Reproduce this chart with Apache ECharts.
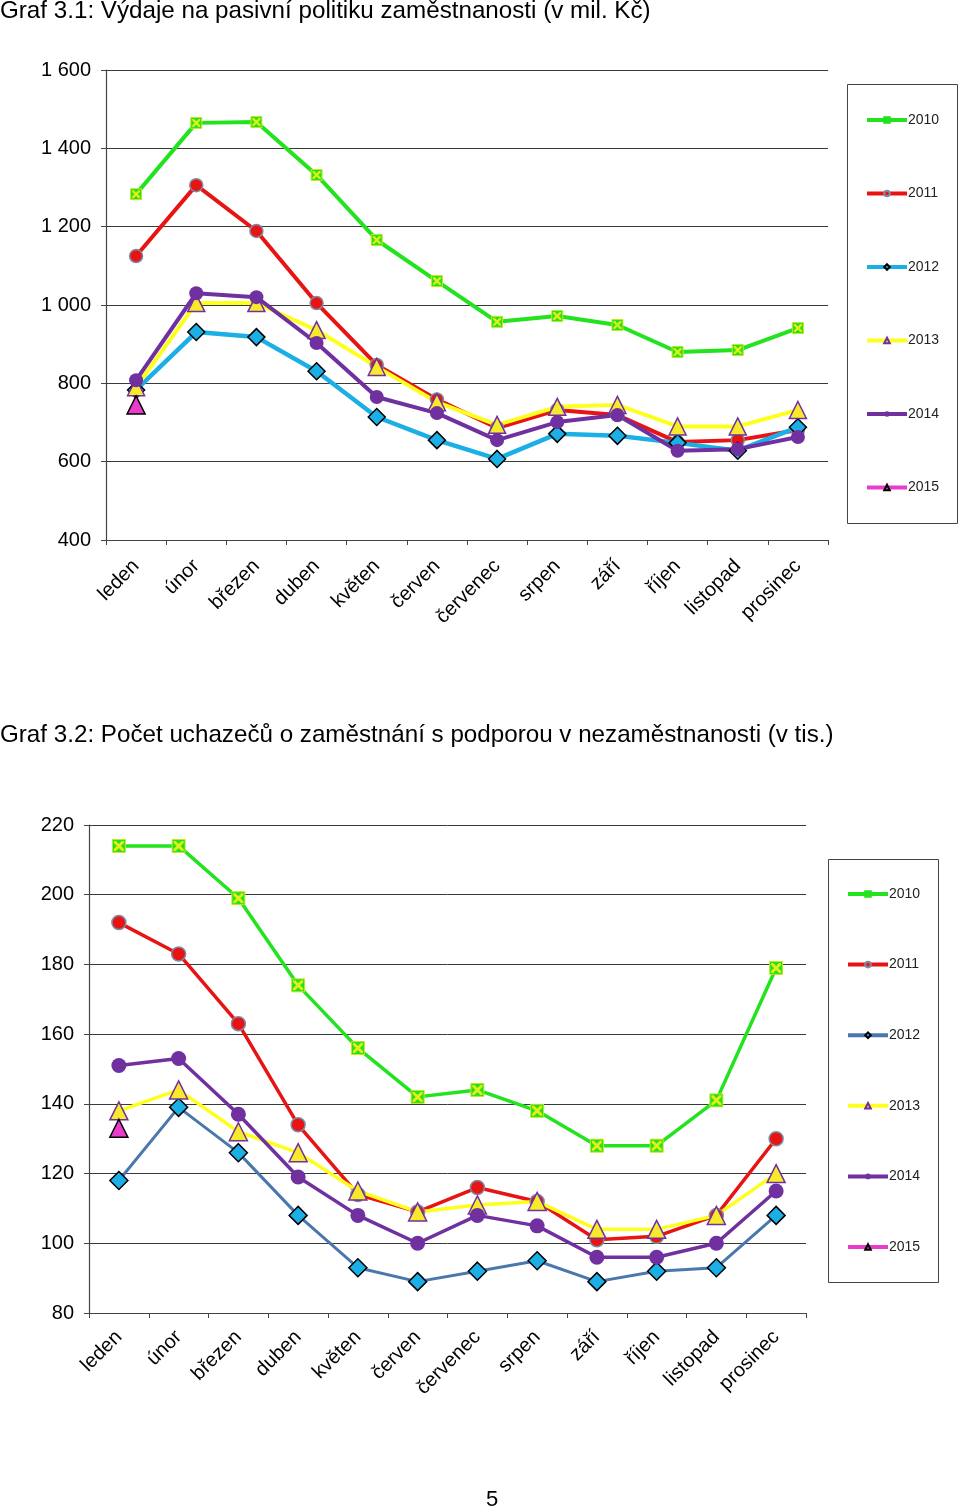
<!DOCTYPE html>
<html>
<head>
<meta charset="utf-8">
<script src="https://cdn.jsdelivr.net/npm/echarts@6/dist/echarts.min.js"></script>
<style>
html,body{margin:0;padding:0;background:#fff;}
#c1{position:absolute;left:0;top:0;width:960px;height:720px;}
#c2{position:absolute;left:0;top:720px;width:960px;height:790px;}
</style>
</head>
<body>
<div id="c1"></div>
<div id="c2"></div>
<script>
// ---- data ----
const months = ['leden','únor','březen','duben','květen','červen','červenec','srpen','září','říjen','listopad','prosinec'];
const years = ['2010','2011','2012','2013','2014','2015'];

const title1 = 'Graf 3.1: Výdaje na pasivní politiku zaměstnanosti (v mil. Kč)';
const vydaje2010 = [1283,1465,1467,1332,1166,1061,957,972,949,880,885,941];
const vydaje2011 = [1125,1306,1189,1005,847,759,686,732,719,650,655,681];
const vydaje2012 = [783,931,918,831,714,655,607,671,666,648,628,688];
const vydaje2013 = [790,1005,1005,936,842,752,694,740,745,690,690,732];
const vydaje2014 = [808,1030,1020,903,765,724,655,701,719,628,632,663];
const vydaje2015 = [745,null,null,null,null,null,null,null,null,null,null,null];

const title2 = 'Graf 3.2: Počet uchazečů o zaměstnání s podporou v nezaměstnanosti (v tis.)';
const uchazeci2010 = [214,214,199,174,156,142,144,138,128,128,141,179];
const uchazeci2011 = [192,183,163,134,114,109,116,112,101,102,108,130];
const uchazeci2012 = [118,139,126,108,93,89,92,95,89,92,93,108];
const uchazeci2013 = [138,144,132,126,115,109,111,112,104,104,108,120];
const uchazeci2014 = [151,153,137,119,108,100,108,105,96,96,100,115];
const uchazeci2015 = [133,null,null,null,null,null,null,null,null,null,null,null];

const pageNumber = '5';

// ---- styles ----
const FONT = 'Liberation Sans, Arial, sans-serif';
const GREEN = '#22E31E', RED = '#E81414', CYAN = '#1CAFE5', STEEL = '#4A78AC',
      YELLOW = '#FFFF1E', YELLOWM = '#F7EA2A', PURPLE = '#7030A0', MAGENTA = '#E83CCB';
const XPATH = 'path://M0,0 L2,0 L10,8 L10,10 L8,10 L0,2 Z M8,0 L10,0 L10,2 L2,10 L0,10 L0,8 Z';

function fmtThousands(v){
  const s = String(v);
  return s.length > 3 ? s.slice(0, s.length-3) + ' ' + s.slice(-3) : s;
}

function build(cfg){
  const d = cfg.data;
  const s = cfg.sizes;
  const lw = cfg.lineWidth;
  const series = [
    {name:'2010', type:'line', data:d[0], symbol:'rect', symbolSize:s.sq,
     lineStyle:{color:GREEN,width:lw}, itemStyle:{color:GREEN,borderColor:'#C8E81E',borderWidth:1}},
    {name:'2010x', type:'line', data:d[0], symbol:XPATH, symbolSize:s.sq-3,
     lineStyle:{opacity:0,width:0}, itemStyle:{color:'#E6EE1A'}, silent:true},
    {name:'2011', type:'line', data:d[1], symbol:'circle', symbolSize:s.rc,
     lineStyle:{color:RED,width:lw}, itemStyle:{color:RED,borderColor:'#7C8CA4',borderWidth:1.5}},
    {name:'2012', type:'line', data:d[2], symbol:'diamond', symbolSize:s.dm,
     lineStyle:{color:cfg.blueLine,width:cfg.blueWidth}, itemStyle:{color:CYAN,borderColor:'#000',borderWidth:1.5}},
    {name:'2013', type:'line', data:d[3], symbol:'triangle', symbolSize:s.tr,
     lineStyle:{color:YELLOW,width:lw}, itemStyle:{color:YELLOWM,borderColor:PURPLE,borderWidth:1.5}},
    {name:'2014', type:'line', data:d[4], symbol:'circle', symbolSize:s.pc,
     lineStyle:{color:PURPLE,width:lw}, itemStyle:{color:PURPLE,borderWidth:0}},
    {name:'2015', type:'line', data:d[5], symbol:'triangle', symbolSize:s.mg,
     lineStyle:{color:MAGENTA,width:lw}, itemStyle:{color:MAGENTA,borderColor:'#000',borderWidth:1.5}}
  ];
  series.forEach(x => { x.animation = false; x.connectNulls = false; });
  const legendData = years.map((y,i) => {
    const o = {name:y, lineStyle:{width:4}};
    if (i===0) o.itemStyle = {color:GREEN,borderColor:GREEN};
    if (i===2) o.lineStyle = {color:cfg.blueLine, width:4};
    return o;
  });
  return {
    animation:false,
    backgroundColor:'#fff',
    textStyle:{fontFamily:FONT},
    title:[
      {text:cfg.title, left:-4, top:cfg.titleTop, padding:[0,4],
       textStyle:{fontFamily:FONT,fontSize:24.2,fontWeight:'normal',color:'#000'}}
    ].concat(cfg.extraTitles||[]),
    graphic:[{type:'rect', shape:cfg.legendBox, style:{fill:'#fff',stroke:'#444',lineWidth:1}, z:0}],
    legend:{
      data:legendData, orient:'vertical', left:cfg.legendLeft, top:cfg.legendTop,
      itemWidth:40, itemHeight:7, itemGap:cfg.legendGap, padding:0,
      selectedMode:false, z:5,
      textStyle:{fontFamily:FONT,fontSize:14,color:'#222',padding:[0,0,0,-4]}
    },
    grid:{left:cfg.grid.left, top:cfg.grid.top, width:cfg.grid.width, height:cfg.grid.height, containLabel:false},
    xAxis:{
      type:'category', data:months, boundaryGap:true,
      axisLine:{lineStyle:{color:'#444',width:1.2}},
      axisTick:{show:true, alignWithLabel:false, length:5, lineStyle:{color:'#444'}},
      axisLabel:{rotate:45, fontFamily:FONT, fontSize:20, color:'#000', margin:cfg.xMargin, interval:0},
      splitLine:{show:false}
    },
    yAxis:{
      type:'value', min:cfg.yMin, max:cfg.yMax, interval:cfg.yInt,
      axisLine:{show:true, lineStyle:{color:'#444',width:1.2}},
      axisTick:{show:true, length:5, lineStyle:{color:'#444'}},
      axisLabel:{fontFamily:FONT, fontSize:20, color:'#000', margin:15, formatter:fmtThousands},
      splitLine:{show:true, lineStyle:{color:'#3a3a3a',width:1}}
    },
    series:series
  };
}

const opt1 = build({
  title:title1, titleTop:-1,
  data:[vydaje2010,vydaje2011,vydaje2012,vydaje2013,vydaje2014,vydaje2015],
  sizes:{sq:11, rc:13, dm:17, tr:17, pc:14, mg:18},
  lineWidth:4, blueLine:CYAN, blueWidth:4.5, xMargin:23,
  grid:{left:106, top:70, width:722, height:470},
  yMin:400, yMax:1600, yInt:200,
  legendBox:{x:847.5, y:84.5, width:110, height:439},
  legendLeft:865, legendTop:113, legendGap:59.5
});

const opt2 = build({
  title:title2, titleTop:3,
  data:[uchazeci2010,uchazeci2011,uchazeci2012,uchazeci2013,uchazeci2014,uchazeci2015],
  sizes:{sq:13, rc:14, dm:18, tr:18, pc:15, mg:18},
  lineWidth:3.5, blueLine:STEEL, blueWidth:3, xMargin:21,
  grid:{left:89, top:105, width:717, height:488},
  yMin:80, yMax:220, yInt:20,
  legendBox:{x:828.5, y:139.5, width:110, height:423},
  legendLeft:846, legendTop:167, legendGap:56.6,
  extraTitles:[{text:pageNumber, left:486, top:769, padding:0,
    textStyle:{fontFamily:FONT,fontSize:22,fontWeight:'normal',color:'#000'}}]
});

echarts.init(document.getElementById('c1'), null, {renderer:'canvas'}).setOption(opt1);
echarts.init(document.getElementById('c2'), null, {renderer:'canvas'}).setOption(opt2);
</script>
</body>
</html>
